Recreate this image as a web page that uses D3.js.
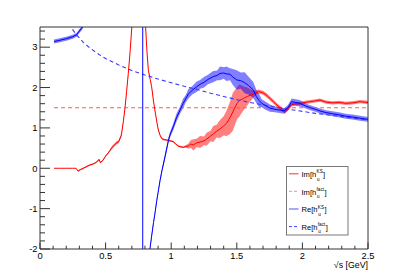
<!DOCTYPE html>
<html>
<head>
<meta charset="utf-8">
<script src="https://cdn.jsdelivr.net/npm/d3@7"></script>
<style>
body { margin: 0; background: #fff; }
text { font-family: "Liberation Sans", Arial, sans-serif; }
</style>
</head>
<body>
<div id="chart"></div>
<script>
// Im[h_u^KS] : red curve with error band
const imKsX = [0.107, 0.15, 0.2, 0.25, 0.275, 0.29, 0.31, 0.33, 0.36, 0.38, 0.40, 0.42, 0.44, 0.45, 0.46, 0.48, 0.50, 0.52, 0.55, 0.58,
    0.60, 0.62, 0.635, 0.648, 0.66, 0.673, 0.687, 0.70, 0.72, 0.79, 0.805, 0.815, 0.826, 0.84, 0.851, 0.864, 0.875, 0.884, 0.893, 0.902,
    0.915, 0.927, 0.945, 0.966, 0.99, 1.016, 1.035, 1.054, 1.075, 1.093, 1.11, 1.13, 1.15, 1.17, 1.194, 1.22, 1.25, 1.27, 1.30, 1.32,
    1.347, 1.37, 1.40, 1.423, 1.448, 1.47, 1.50, 1.52, 1.55, 1.58, 1.613, 1.64, 1.664, 1.70, 1.73, 1.753, 1.78, 1.80, 1.83, 1.867,
    1.89, 1.918, 1.95, 1.98, 2.02, 2.06, 2.10, 2.134, 2.18, 2.23, 2.28, 2.33, 2.38, 2.44, 2.50];
const imKsY = [0, 0, 0, 0, 0, -0.07, -0.03, 0.0, 0.05, 0.08, 0.10, 0.13, 0.18, 0.22, 0.14, 0.20, 0.30, 0.38, 0.52, 0.62,
    0.66, 0.82, 1.15, 1.50, 1.90, 2.35, 2.90, 3.50, 4.60, 4.60, 3.50, 2.90, 2.43, 2.20, 2.02, 1.69, 1.45, 1.28, 1.10, 0.95,
    0.82, 0.74, 0.71, 0.70, 0.68, 0.66, 0.60, 0.55, 0.53, 0.52, 0.54, 0.55, 0.60, 0.58, 0.63, 0.65, 0.68, 0.72, 0.80, 0.85,
    0.92, 0.97, 1.05, 1.12, 1.25, 1.40, 1.60, 1.68, 1.73, 1.78, 1.82, 1.86, 1.90, 1.87, 1.80, 1.73, 1.65, 1.58, 1.50, 1.40,
    1.48, 1.57, 1.60, 1.60, 1.63, 1.65, 1.67, 1.69, 1.64, 1.62, 1.63, 1.61, 1.62, 1.65, 1.63];
const imKsErr = [0, 0, 0, 0, 0, 0.02, 0.02, 0.02, 0.02, 0.02, 0.02, 0.02, 0.02, 0.02, 0.02, 0.02, 0.02, 0.02, 0.04, 0.04,
    0.04, 0.04, 0.02, 0.02, 0.02, 0.02, 0.02, 0.02, 0.02, 0.02, 0.02, 0.02, 0.02, 0.02, 0.02, 0.02, 0.02, 0.02, 0.02, 0.02,
    0.02, 0.02, 0.02, 0.02, 0.02, 0.02, 0.02, 0.02, 0.02, 0.02, 0.03, 0.06, 0.10, 0.14, 0.10, 0.15, 0.11, 0.16, 0.13, 0.20,
    0.16, 0.22, 0.24, 0.32, 0.40, 0.47, 0.40, 0.40, 0.30, 0.22, 0.12, 0.06, 0.05, 0.05, 0.05, 0.05, 0.05, 0.05, 0.05, 0.05,
    0.05, 0.04, 0.04, 0.04, 0.04, 0.04, 0.04, 0.04, 0.04, 0.04, 0.04, 0.04, 0.04, 0.04, 0.04];

// Im[h_u^fact] : constant
const imFactX = [0.107, 2.5];
const imFactY = [1.5, 1.5];

// Re[h_u^KS] : blue curve with error band, pole near 0.783
const reKsX = [0.107, 0.15, 0.2, 0.25, 0.28, 0.30, 0.315, 0.325, 0.35, 0.783, 0.783, 0.83, 0.838, 0.85, 0.865, 0.877, 0.89, 0.90, 0.915, 0.93,
    0.953, 0.97, 0.978, 0.99, 1.0, 1.016, 1.04, 1.067, 1.09, 1.11, 1.13, 1.16, 1.194, 1.22, 1.25, 1.28, 1.32, 1.35, 1.372, 1.40,
    1.42, 1.448, 1.47, 1.499, 1.53, 1.56, 1.59, 1.626, 1.65, 1.67, 1.69, 1.72, 1.753, 1.79, 1.83, 1.86, 1.89, 1.918, 1.95, 1.98,
    2.02, 2.06, 2.10, 2.134, 2.18, 2.23, 2.287, 2.33, 2.38, 2.44, 2.50];
const reKsY = [3.14, 3.17, 3.21, 3.26, 3.31, 3.40, 3.46, 3.50, 3.85, 40, -40, -2.3, -2.0, -1.7, -1.35, -1.1, -0.8, -0.6, -0.3, -0.05,
    0.29, 0.55, 0.68, 0.82, 0.90, 1.03, 1.25, 1.44, 1.60, 1.72, 1.84, 1.93, 2.02, 2.08, 2.13, 2.20, 2.27, 2.30, 2.35, 2.36,
    2.34, 2.33, 2.26, 2.19, 2.17, 2.12, 2.05, 1.94, 1.77, 1.68, 1.61, 1.55, 1.49, 1.46, 1.44, 1.42, 1.50, 1.65, 1.63, 1.61,
    1.55, 1.50, 1.46, 1.42, 1.38, 1.35, 1.32, 1.29, 1.27, 1.24, 1.21];
const reKsErr = [0.05, 0.05, 0.05, 0.05, 0.05, 0.05, 0.05, 0.05, 0.05, null, null, 0.05, 0.05, 0.05, 0.05, 0.05, 0.05, 0.05, 0.05, 0.05,
    0.07, 0.07, 0.07, 0.07, 0.07, 0.08, 0.10, 0.09, 0.12, 0.09, 0.12, 0.10, 0.13, 0.11, 0.13, 0.12, 0.14, 0.12, 0.17, 0.14,
    0.18, 0.15, 0.20, 0.24, 0.20, 0.26, 0.22, 0.20, 0.16, 0.16, 0.10, 0.10, 0.09, 0.07, 0.07, 0.07, 0.07, 0.08, 0.08, 0.08,
    0.06, 0.06, 0.06, 0.06, 0.06, 0.06, 0.06, 0.06, 0.06, 0.06, 0.06];

// Re[h_u^fact]
const reFactX = [0.2, 0.23, 0.28, 0.33, 0.38, 0.45, 0.5, 0.6, 0.7, 0.8, 0.9, 1.0, 1.1, 1.2, 1.3, 1.4, 1.5, 1.6, 1.7, 1.8,
    1.9, 2.0, 2.1, 2.2, 2.3, 2.4, 2.5];
const reFactY = [3.75, 3.52, 3.30, 3.12, 2.98, 2.82, 2.72, 2.56, 2.42, 2.31, 2.21, 2.12, 2.03, 1.95, 1.86, 1.78, 1.70, 1.63, 1.57, 1.51,
    1.46, 1.41, 1.36, 1.32, 1.28, 1.24, 1.20];

const xTicks = [0, 0.5, 1, 1.5, 2, 2.5];
const yTicks = [-2, -1, 0, 1, 2, 3];
const legendLabels = [
    {base: "Im[h", sup: "KS", sub: "u"},
    {base: "Im[h", sup: "fact", sub: "u"},
    {base: "Re[h", sup: "KS", sub: "u"},
    {base: "Re[h", sup: "fact", sub: "u"}
];

const W = 409, H = 277;
const frame = {left: 40, right: 368, top: 27, bottom: 249};

const svg = d3.select("#chart").append("svg")
    .attr("width", W)
    .attr("height", H);

const x = d3.scaleLinear().domain([0, 2.5]).range([frame.left, frame.right]);
const y = d3.scaleLinear().domain([-2, 3.5]).range([frame.bottom, frame.top]);

svg.append("clipPath").attr("id", "clip")
    .append("rect")
    .attr("x", frame.left).attr("y", frame.top)
    .attr("width", frame.right - frame.left)
    .attr("height", frame.bottom - frame.top);

const zip = (xs, ys, es) => xs.map((v, i) => ({x: v, y: ys[i], e: es ? es[i] : 0}));
const imKs = zip(imKsX, imKsY, imKsErr);
const reKs = zip(reKsX, reKsY, reKsErr);
const imFact = zip(imFactX, imFactY);
const reFact = zip(reFactX, reFactY);

const plot = svg.append("g").attr("clip-path", "url(#clip)");

const band = d3.area()
    .defined(d => d.e != null)
    .x(d => x(d.x))
    .y0(d => y(d.y - d.e))
    .y1(d => y(d.y + d.e));
const line = d3.line()
    .x(d => x(d.x))
    .y(d => y(d.y));

// error bands
plot.append("path").datum(imKs)
    .attr("d", band)
    .attr("fill", "rgba(255,0,0,0.5)");
plot.append("path").datum(reKs)
    .attr("d", band)
    .attr("fill", "rgba(0,0,255,0.5)");

// factorised curves (dashed)
plot.append("path").datum(imFact)
    .attr("d", line)
    .attr("fill", "none")
    .attr("stroke", "#ff5a5a")
    .attr("stroke-width", 1.1)
    .attr("stroke-dasharray", "4,3");
plot.append("path").datum(reFact)
    .attr("d", line)
    .attr("fill", "none")
    .attr("stroke", "#3a3aff")
    .attr("stroke-width", 1.1)
    .attr("stroke-dasharray", "4,3");

// central lines
plot.append("path").datum(imKs)
    .attr("d", line)
    .attr("fill", "none")
    .attr("stroke", "#ff0000")
    .attr("stroke-width", 1);
plot.append("path").datum(reKs)
    .attr("d", line)
    .attr("fill", "none")
    .attr("stroke", "#0000ff")
    .attr("stroke-width", 1);

// frame
const axisColor = "#333";
svg.append("line")
    .attr("x1", frame.left).attr("x2", frame.right)
    .attr("y1", frame.top).attr("y2", frame.top)
    .attr("stroke", axisColor).attr("stroke-width", 1);
svg.append("line")
    .attr("x1", frame.right).attr("x2", frame.right)
    .attr("y1", frame.top).attr("y2", frame.bottom)
    .attr("stroke", axisColor).attr("stroke-width", 1);

// x axis, ticks pointing inside
const xAxis = svg.append("g");
xAxis.append("line")
    .attr("x1", frame.left).attr("x2", frame.right)
    .attr("y1", frame.bottom).attr("y2", frame.bottom)
    .attr("stroke", axisColor);
xAxis.selectAll(".xminor")
    .data(d3.range(0, 26).map(i => i / 10))
    .enter().append("line")
    .attr("x1", d => x(d)).attr("x2", d => x(d))
    .attr("y1", frame.bottom)
    .attr("y2", (d, i) => frame.bottom - (i % 5 === 0 ? 6.5 : 3.3))
    .attr("stroke", axisColor);
xAxis.selectAll(".xlab")
    .data(xTicks)
    .enter().append("text")
    .attr("x", d => x(d))
    .attr("y", 259)
    .attr("text-anchor", "middle")
    .attr("font-size", 9.3)
    .attr("fill", "#000")
    .text(d => d3.format("")(d));

// y axis
const yAxis = svg.append("g");
yAxis.append("line")
    .attr("x1", frame.left).attr("x2", frame.left)
    .attr("y1", frame.top).attr("y2", frame.bottom)
    .attr("stroke", axisColor);
yAxis.selectAll(".yminor")
    .data(d3.range(0, 28).map(i => -2 + i * 0.2))
    .enter().append("line")
    .attr("x1", frame.left)
    .attr("x2", (d, i) => frame.left + (i % 5 === 0 ? 10 : 5))
    .attr("y1", d => y(d)).attr("y2", d => y(d))
    .attr("stroke", axisColor);
yAxis.selectAll(".ylab")
    .data(yTicks)
    .enter().append("text")
    .attr("x", 37.5)
    .attr("y", d => y(d) + 3.3)
    .attr("text-anchor", "end")
    .attr("font-size", 9.3)
    .attr("fill", "#000")
    .text(d => d < 0 ? "-" + Math.abs(d) : d);

// axis title
svg.append("text")
    .attr("x", frame.right)
    .attr("y", 268)
    .attr("text-anchor", "end")
    .attr("font-size", 8.8)
    .attr("fill", "#000")
    .text("\u221As [GeV]");

// legend
const leg = svg.append("g");
leg.append("rect")
    .attr("x", 286.5).attr("y", 166.5)
    .attr("width", 61.5).attr("height", 68.5)
    .attr("fill", "#fff")
    .attr("stroke", "#777")
    .attr("stroke-width", 1);
const legStyles = [
    {color: "#ff3030", dash: null},
    {color: "#ff8a8a", dash: "3,2"},
    {color: "#5050ff", dash: null},
    {color: "#4040ff", dash: "3,2"}
];
const legY = [173.8, 191.3, 209, 226.6];
legendLabels.forEach((lab, i) => {
    const cy = legY[i];
    leg.append("line")
        .attr("x1", 289).attr("x2", 298.5)
        .attr("y1", cy).attr("y2", cy)
        .attr("stroke", legStyles[i].color)
        .attr("stroke-width", 1)
        .attr("stroke-dasharray", legStyles[i].dash);
    const t = leg.append("text")
        .attr("x", 301.5).attr("y", cy + 3.3)
        .attr("font-size", 7.6)
        .attr("fill", "#000")
        .text(lab.base);
    const bx = 301.5 + t.node().getComputedTextLength() + 0.3;
    const sp = leg.append("text")
        .attr("x", bx).attr("y", cy - 0.4)
        .attr("font-size", 4.6)
        .attr("fill", "#000")
        .text(lab.sup);
    const sb = leg.append("text")
        .attr("x", bx + 0.5).attr("y", cy + 6.8)
        .attr("font-size", 4.6)
        .attr("fill", "#000")
        .text(lab.sub);
    const w = Math.max(sp.node().getComputedTextLength(), sb.node().getComputedTextLength() + 0.5);
    leg.append("text")
        .attr("x", bx + w + 0.4).attr("y", cy + 3.3)
        .attr("font-size", 7.6)
        .attr("fill", "#000")
        .text("]");
});
</script>
</body>
</html>
